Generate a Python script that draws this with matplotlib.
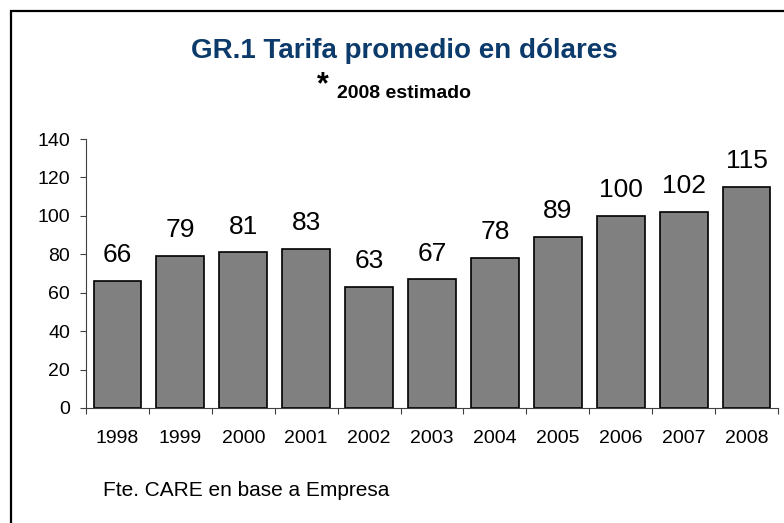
import numpy as np
import matplotlib.pyplot as plt
from matplotlib.patches import Rectangle

plt.rcParams['font.family'] = ['Liberation Sans', 'DejaVu Sans']

years = ["1998", "1999", "2000", "2001", "2002", "2003", "2004", "2005", "2006", "2007", "2008"]
tarifa = [66, 79, 81, 83, 63, 67, 78, 89, 100, 102, 115]

fig = plt.figure(figsize=(7.84, 5.23), dpi=100)
ax = fig.add_axes([86 / 784, 1 - 408 / 523, (778 - 86) / 784, (408 - 139) / 523])

x = np.arange(len(years))
ax.bar(x, tarifa, width=0.76, color="#808080", edgecolor="black", linewidth=1.2)
for xi, v in zip(x, tarifa):
    ax.annotate(str(v), (xi, v), xytext=(0, 13.5), textcoords="offset points",
                ha="center", va="baseline", fontsize=19)

ax.set_xlim(-0.5, len(years) - 0.5)
ax.set_ylim(0, 140)
ax.set_yticks(range(0, 141, 20))
ax.set_xticks(x)
ax.set_xticklabels(years)
ax.tick_params(axis="x", length=0, pad=16, labelsize=14)
ax.set_xticks(np.arange(-0.5, len(years)), minor=True)
ax.tick_params(axis="x", which="minor", length=4.5, width=0.8, color="#404040", direction="out")
ax.tick_params(axis="y", length=4.5, width=0.8, color="#404040", labelsize=14, pad=7)
for s in ["top", "right"]:
    ax.spines[s].set_visible(False)
for s in ["left", "bottom"]:
    ax.spines[s].set_color("#404040")
    ax.spines[s].set_linewidth(0.8)

fig.text(404 / 784, 1 - 58 / 523, "GR.1 Tarifa promedio en dólares", ha="center", va="baseline",
         fontsize=20, fontweight="bold", color="#0b3a6b")
fig.text(323 / 784, 1 - 85 / 523, "*", ha="center", va="center", fontsize=22, fontweight="bold")
fig.text(337 / 784, 1 - 98 / 523, "2008 estimado", ha="left", va="baseline",
         fontsize=14, fontweight="bold")
fig.text(103 / 784, 1 - 491 / 523, "Fte. CARE en base a Empresa", ha="left", va="center",
         fontsize=15)

fig.patches.append(Rectangle((11 / 784, -0.05), 1.2, 1 - 11 / 523 + 0.05, transform=fig.transFigure,
                             fill=False, edgecolor="black", linewidth=1.6))

fig.savefig("out.png", dpi=100)
